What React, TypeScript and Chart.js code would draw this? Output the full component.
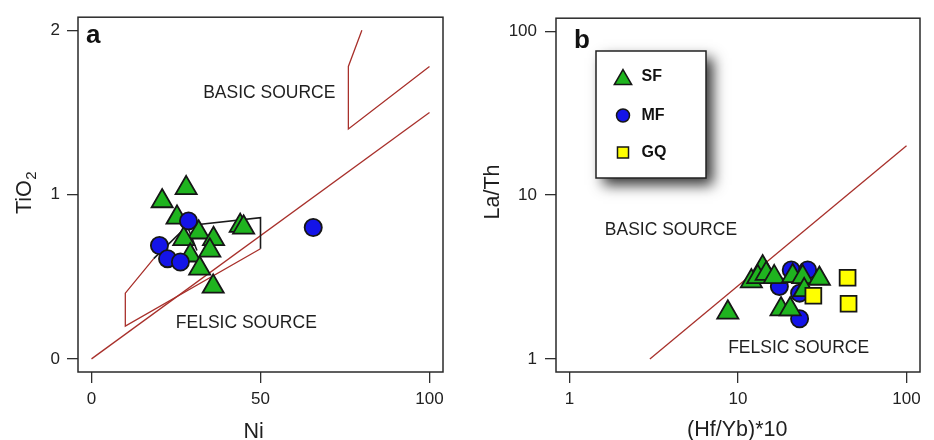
import React, { useEffect, useRef } from 'react';
import { Chart, registerables } from 'chart.js';
import { drawPoint } from 'chart.js/helpers';

Chart.register(...registerables);

// ---- Panel a: Ni vs TiO2 ----
const niTicks = [0, 50, 100];
const tio2Ticks = [0, 1, 2];

const sfNi = [28.0, 20.9, 25.3, 31.7, 27.3, 36.1, 35.0, 29.2, 32.0, 36.0, 44.0, 45.0];
const sfTiO2 = [1.04, 0.96, 0.86, 0.77, 0.73, 0.73, 0.66, 0.63, 0.55, 0.44, 0.81, 0.8];
const mfNi = [28.7, 20.1, 22.5, 26.3, 65.6];
const mfTiO2 = [0.84, 0.69, 0.61, 0.59, 0.8];

// field boundaries (Ni, TiO2)
const trendNi = [0, 100];
const trendTiO2 = [0, 1.5];
const basicEdgeNi = [80, 76, 76, 100];
const basicEdgeTiO2 = [2.0, 1.78, 1.4, 1.78];
const fieldRedNi = [18.4, 10, 10, 50];
const fieldRedTiO2 = [0.61, 0.4, 0.2, 0.67];
const fieldBlackNiA = [18.4, 28.3, 31.2];
const fieldBlackTiO2A = [0.61, 0.81, 0.66];
const fieldBlackNiB = [28.3, 50, 50];
const fieldBlackTiO2B = [0.81, 0.86, 0.67];

// ---- Panel b: (Hf/Yb)*10 vs La/Th ----
const hfybTicks = [1, 10, 100];
const lathTicks = [1, 10, 100];

const sfHfYb = [8.7, 18.0, 20.4, 14.0, 12.0, 13.1, 14.7, 16.4, 21.1, 24.2, 30.4, 24.7];
const sfLaTh = [1.92, 2.01, 2.01, 3.63, 2.98, 3.16, 3.31, 3.16, 3.21, 3.16, 3.09, 2.63];
const mfHfYb = [17.6, 20.7, 25.9, 23.2, 23.2];
const mfLaTh = [2.77, 3.49, 3.49, 2.52, 1.76];
const gqHfYb = [44.7, 45.3, 28.0];
const gqLaTh = [3.13, 2.17, 2.43];

const divideHfYb = [3, 100];
const divideLaTh = [1, 20];

const groupLabels = ['SF', 'MF', 'GQ'];

// ---- styling ----
const FONT = '"Liberation Sans", Arial, Helvetica, sans-serif';
const INK = '#1f1f1f';
const FIELD_RED = '#a8302b';
const W = 467;
const H = 440;

const zip = (xs: number[], ys: number[]) => xs.map((x, i) => ({ x, y: ys[i] }));

const markerStyles: Record<string, any> = {
  SF: { pointStyle: 'triangle', radius: 12.2, fill: '#1fb41f' },
  MF: { pointStyle: 'circle', radius: 8.6, fill: '#1414e8' },
  GQ: { pointStyle: 'rect', radius: 11.2, fill: '#ffff00' },
};

function pointSet(label: string, xs: number[], ys: number[]) {
  const m = markerStyles[label];
  return {
    label,
    data: zip(xs, ys),
    pointStyle: m.pointStyle,
    pointRadius: m.radius,
    pointHoverRadius: m.radius,
    pointBackgroundColor: m.fill,
    pointBorderColor: '#161616',
    pointBorderWidth: 1.8,
    showLine: false,
  };
}

function lineSet(xs: number[], ys: number[], color: string, width = 1.3) {
  return {
    label: '',
    data: zip(xs, ys),
    showLine: true,
    borderColor: color,
    borderWidth: width,
    pointRadius: 0,
    pointHoverRadius: 0,
    tension: 0,
    fill: false,
  };
}

type Decor = {
  letter: string;
  letterX: number;
  letterY: number;
  xTitle: string;
  xTitleX: number;
  xTitleY: number;
  yTitle: string;
  ySub?: string;
  yTitleX: number;
  yTitleY: number;
  regions: { text: string; x: number; y: number }[];
  legend?: { left: number; top: number; right: number; bottom: number; rows: number[]; markX: number; textX: number };
};

function decorPlugin(d: Decor) {
  return {
    id: 'decor',
    afterDraw(chart: any) {
      const { ctx, chartArea: a, scales } = chart;
      ctx.save();

      // frame around the plotting region
      ctx.strokeStyle = '#2a2a2a';
      ctx.lineWidth = 1.5;
      ctx.strokeRect(a.left, a.top, a.right - a.left, a.bottom - a.top);

      // panel letter
      ctx.fillStyle = '#111';
      ctx.font = `bold 26px ${FONT}`;
      ctx.textAlign = 'left';
      ctx.textBaseline = 'alphabetic';
      ctx.fillText(d.letter, d.letterX, d.letterY);

      // source field labels, placed in data units
      ctx.fillStyle = INK;
      ctx.font = `17.5px ${FONT}`;
      ctx.textAlign = 'center';
      for (const r of d.regions) {
        ctx.fillText(r.text, scales.x.getPixelForValue(r.x), scales.y.getPixelForValue(r.y));
      }

      // x axis title
      ctx.font = `21.5px ${FONT}`;
      ctx.textAlign = 'center';
      ctx.fillText(d.xTitle, d.xTitleX, d.xTitleY);

      // y axis title (rotated, optional subscript)
      ctx.save();
      ctx.translate(d.yTitleX, d.yTitleY);
      ctx.rotate(-Math.PI / 2);
      ctx.textAlign = 'left';
      ctx.font = `21.5px ${FONT}`;
      const mainW = ctx.measureText(d.yTitle).width;
      let subW = 0;
      if (d.ySub) {
        ctx.font = `15px ${FONT}`;
        subW = ctx.measureText(d.ySub).width;
      }
      const start = -(mainW + subW) / 2;
      ctx.font = `21.5px ${FONT}`;
      ctx.fillText(d.yTitle, start, 0);
      if (d.ySub) {
        ctx.font = `15px ${FONT}`;
        ctx.fillText(d.ySub, start + mainW + 0.5, 5);
      }
      ctx.restore();

      // legend box with drop shadow
      if (d.legend) {
        const L = d.legend;
        ctx.save();
        ctx.shadowColor = 'rgba(0,0,0,0.8)';
        ctx.shadowBlur = 13;
        ctx.shadowOffsetX = 7;
        ctx.shadowOffsetY = 7;
        ctx.fillStyle = '#ffffff';
        ctx.fillRect(L.left, L.top, L.right - L.left, L.bottom - L.top);
        ctx.restore();
        ctx.strokeStyle = '#222';
        ctx.lineWidth = 1.5;
        ctx.strokeRect(L.left, L.top, L.right - L.left, L.bottom - L.top);

        const legendSizes: Record<string, number> = { SF: 10, MF: 6.5, GQ: 7.8 };
        const lift: Record<string, number> = { SF: -2.5, MF: 0, GQ: 0 };
        groupLabels.forEach((name, i) => {
          const ds = chart.data.datasets.find((s: any) => s.label === name);
          if (!ds) return;
          const cy = L.rows[i];
          ctx.fillStyle = ds.pointBackgroundColor;
          ctx.strokeStyle = ds.pointBorderColor;
          ctx.lineWidth = 1.5;
          drawPoint(ctx, { pointStyle: ds.pointStyle, radius: legendSizes[name], rotation: 0, borderWidth: 1.5 }, L.markX, cy - lift[name]);
          ctx.fillStyle = '#111';
          ctx.font = `bold 16px ${FONT}`;
          ctx.textAlign = 'left';
          ctx.textBaseline = 'middle';
          ctx.fillText(name, L.textX, cy);
        });
      }
      ctx.restore();
    },
  };
}

function axisCommon(tickValues: number[], padding: number) {
  return {
    afterBuildTicks: (s: any) => {
      s.ticks = tickValues.map((v) => ({ value: v }));
    },
    ticks: {
      callback: (v: any) => String(v),
      font: { family: FONT, size: 17 },
      color: '#222',
      padding,
      maxRotation: 0,
      autoSkip: false,
    },
    grid: {
      display: true,
      drawOnChartArea: false,
      drawTicks: true,
      tickLength: 11,
      color: '#2f2f2f',
      lineWidth: 1.3,
    },
    border: { display: false },
    title: { display: false },
  };
}

function baseOptions(padRight: number, yWidth: number, xScale: any, yScale: any) {
  return {
    responsive: false,
    animation: false,
    devicePixelRatio: 1,
    events: [],
    layout: { padding: { top: 12, right: padRight, bottom: 0, left: 0 } },
    plugins: { legend: { display: false }, tooltip: { enabled: false } },
    scales: {
      x: { ...xScale, afterFit: (s: any) => { s.height = 68; } },
      y: { ...yScale, afterFit: (s: any) => { s.width = yWidth; } },
    },
  };
}

// dataset order: earlier entries are painted on top
function buildNiChart(): any {
  return {
    type: 'scatter',
    data: {
      datasets: [
        pointSet('MF', mfNi, mfTiO2),
        pointSet('SF', sfNi, sfTiO2),
        lineSet(fieldBlackNiA, fieldBlackTiO2A, '#1a1a1a', 1.6),
        lineSet(fieldBlackNiB, fieldBlackTiO2B, '#1a1a1a', 1.6),
        lineSet(fieldRedNi, fieldRedTiO2, FIELD_RED),
        lineSet(basicEdgeNi, basicEdgeTiO2, FIELD_RED),
        lineSet(trendNi, trendTiO2, FIELD_RED),
      ],
    },
    options: baseOptions(
      24,
      78,
      { type: 'linear', min: -4, max: 104, ...axisCommon(niTicks, 6) },
      { type: 'linear', min: -0.08, max: 2.08, ...axisCommon(tio2Ticks, 7) },
    ),
    plugins: [
      decorPlugin({
        letter: 'a',
        letterX: 86,
        letterY: 43,
        xTitle: 'Ni',
        xTitleX: 253.6,
        xTitleY: 438,
        yTitle: 'TiO',
        ySub: '2',
        yTitleX: 31,
        yTitleY: 193,
        regions: [
          { text: 'BASIC SOURCE', x: 52.6, y: 1.59 },
          { text: 'FELSIC SOURCE', x: 45.8, y: 0.19 },
        ],
      }),
    ],
  };
}

function buildHfYbChart(): any {
  return {
    type: 'scatter',
    data: {
      datasets: [
        pointSet('GQ', gqHfYb, gqLaTh),
        pointSet('SF', sfHfYb, sfLaTh),
        pointSet('MF', mfHfYb, mfLaTh),
        lineSet(divideHfYb, divideLaTh, FIELD_RED),
      ],
    },
    options: baseOptions(
      13,
      89,
      { type: 'logarithmic', min: Math.pow(10, -0.08), max: Math.pow(10, 2.08), ...axisCommon(hfybTicks, 6) },
      { type: 'logarithmic', min: Math.pow(10, -0.08), max: Math.pow(10, 2.08), ...axisCommon(lathTicks, 8) },
    ),
    plugins: [
      decorPlugin({
        letter: 'b',
        letterX: 107,
        letterY: 48,
        xTitle: '(Hf/Yb)*10',
        xTitleX: 270.3,
        xTitleY: 435.5,
        yTitle: 'La/Th',
        yTitleX: 32,
        yTitleY: 192,
        regions: [
          { text: 'BASIC SOURCE', x: 4.0, y: 5.68 },
          { text: 'FELSIC SOURCE', x: 22.9, y: 1.08 },
        ],
        legend: { left: 129, top: 51, right: 239, bottom: 178, rows: [77, 115.5, 152.5], markX: 156, textX: 174.5 },
      }),
    ],
  };
}

function Panel({ build, left }: { build: () => any; left: number }) {
  const ref = useRef<HTMLCanvasElement>(null);
  useEffect(() => {
    const chart = new Chart(ref.current as HTMLCanvasElement, build());
    return () => chart.destroy();
  }, [build]);
  return (
    <canvas
      ref={ref}
      width={W}
      height={H}
      style={{ position: 'absolute', left, top: 0, width: W, height: H }}
    />
  );
}

export default function App() {
  return (
    <div style={{ position: 'absolute', left: 0, top: 0, width: 934, height: 440, background: '#ffffff', overflow: 'hidden' }}>
      <Panel build={buildNiChart} left={0} />
      <Panel build={buildHfYbChart} left={467} />
    </div>
  );
}
